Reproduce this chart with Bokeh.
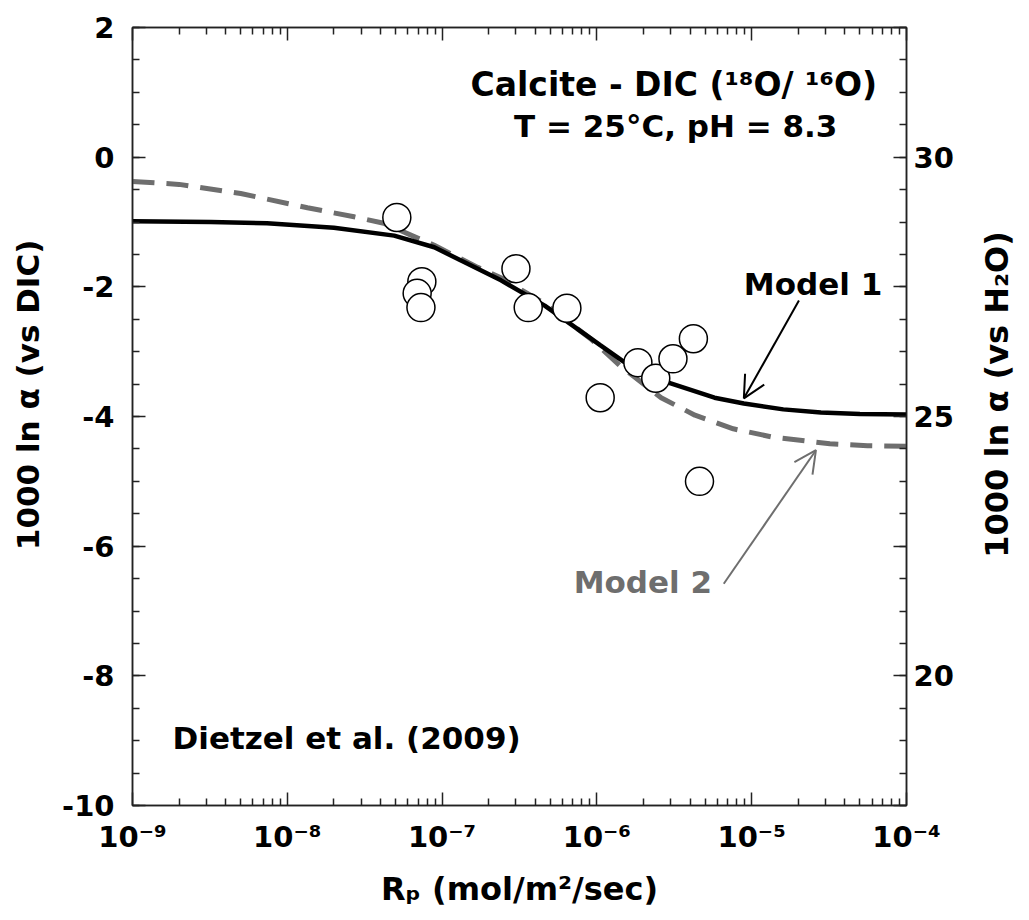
import math
import numpy as np
from bokeh.plotting import figure
from bokeh.models import (LinearAxis, LogAxis, Range1d, FixedTicker,
                          CustomJSTickFormatter, Arrow, OpenHead, Label)
from bokeh.embed import file_html
from bokeh.resources import INLINE

# ---------------- data ----------------
rate_obs = [5.1e-8, 7.4e-8, 6.9e-8, 7.3e-8, 3.0e-7, 3.6e-7, 6.4e-7,
            1.05e-6, 1.84e-6, 2.4e-6, 3.1e-6, 4.2e-6, 4.6e-6]
alpha_obs = [-0.93, -1.92, -2.10, -2.32, -1.72, -2.32, -2.33,
             -3.71, -3.17, -3.41, -3.11, -2.80, -5.00]

model1_rate = [1e-9, 3.2e-9, 7.4e-9, 2.0e-8, 4.9e-8, 8.9e-8, 1.45e-7, 2.4e-7,
               4.6e-7, 1.05e-6, 1.48e-6, 3.0e-6, 5.75e-6, 8.9e-6, 1.6e-5,
               2.8e-5, 5.0e-5, 1e-4]
model1_alpha = [-0.99, -1.00, -1.02, -1.09, -1.21, -1.39, -1.64, -1.90,
                -2.29, -2.90, -3.15, -3.49, -3.71, -3.80, -3.89,
                -3.94, -3.96, -3.97]

model2_rate = [1e-9, 2.0e-9, 5.0e-9, 1.35e-8, 2.7e-8, 4.2e-8, 8.9e-8, 1.7e-7,
               2.4e-7, 4.6e-7, 9.1e-7, 1.4e-6, 2.6e-6, 4.3e-6, 7.6e-6,
               1.38e-5, 3.2e-5, 5.6e-5, 1e-4]
model2_alpha = [-0.375, -0.42, -0.56, -0.78, -0.92, -1.02, -1.36, -1.70,
                -1.86, -2.26, -2.80, -3.21, -3.71, -3.98, -4.19,
                -4.32, -4.42, -4.45, -4.46]

x_decades = [1e-9, 1e-8, 1e-7, 1e-6, 1e-5, 1e-4]
y_major = [-10, -8, -6, -4, -2, 0, 2]
h2o_labelled = [20, 25, 30]

FONT = "DejaVu Sans"
GRAY = "#6e6e6e"
AX = "#222222"
NBSP = "\u00a0"

# ---------------- figure ----------------
p = figure(width=1025, height=915, x_axis_type="log",
           x_range=Range1d(1e-9, 1e-4), y_range=Range1d(-10, 2),
           output_backend="svg", toolbar_location=None,
           min_border_left=132, min_border_right=119,
           min_border_top=27, min_border_bottom=110)
p.extra_y_ranges = {"h2o": Range1d(17.5, 32.5)}
p.grid.visible = False
p.outline_line_color = AX
p.outline_line_width = 1.5
p.background_fill_color = "white"
p.border_fill_color = "white"

x_minor = [k * d for d in x_decades[:-1] for k in range(2, 10)]
x_ticker = FixedTicker(ticks=x_decades, minor_ticks=x_minor)
y_minor = list(np.arange(-10, 2.01, 0.5))
y_ticker = FixedTicker(ticks=y_major, minor_ticks=y_minor)
h_major = list(np.arange(17.5, 32.51, 2.5))
h_minor = list(np.arange(17.5, 32.51, 0.625))
h_ticker = FixedTicker(ticks=h_major, minor_ticks=h_minor)

log_fmt = CustomJSTickFormatter(code="""
const sup = {'-':'\u207b','0':'\u2070','1':'\u00b9','2':'\u00b2','3':'\u00b3',
             '4':'\u2074','5':'\u2075','6':'\u2076','7':'\u2077','8':'\u2078','9':'\u2079'};
const e = Math.round(Math.log10(tick));
return '10' + String(e).split('').map(c => sup[c]).join('');
""")
lin_fmt = CustomJSTickFormatter(code="return tick.toFixed(0);")
h_fmt = CustomJSTickFormatter(code="""
return (Math.abs(tick % 5) < 1e-6) ? tick.toFixed(0) : '';
""")
blank_fmt = CustomJSTickFormatter(code="return '';")


def style(ax):
    ax.axis_line_color = AX
    ax.axis_line_width = 1.5
    ax.major_tick_line_color = AX
    ax.minor_tick_line_color = AX
    ax.major_tick_line_width = 1.5
    ax.minor_tick_line_width = 1.5
    ax.major_tick_in = 13
    ax.major_tick_out = 0
    ax.minor_tick_in = 7
    ax.minor_tick_out = 0
    ax.major_label_text_font = FONT
    ax.major_label_text_font_style = "bold"
    ax.major_label_text_font_size = "29px"
    ax.major_label_text_color = "black"
    ax.axis_label_text_font = FONT
    ax.axis_label_text_font_style = "bold"
    ax.axis_label_text_font_size = "31px"
    ax.axis_label_text_color = "black"


xb = p.below[0]
xb.ticker = x_ticker
xb.formatter = log_fmt
style(xb)
xb.axis_label_text_font_size = "32px"
xb.major_label_standoff = 14
xb.axis_label = "R\u209a (mol/m\u00b2/sec)"
xb.axis_label_standoff = 13

yl = p.left[0]
yl.ticker = y_ticker
yl.formatter = lin_fmt
style(yl)
yl.major_label_standoff = 18
# leading non-breaking spaces lift the centred title a little, as in the reference
yl.axis_label = NBSP * 4 + "1000 ln \u03b1 (vs DIC)"
yl.axis_label_standoff = 13

xt = LogAxis(ticker=x_ticker, formatter=blank_fmt)
style(xt)
xt.major_label_text_font_size = "0px"
xt.major_label_standoff = 0
p.add_layout(xt, "above")

yr = LinearAxis(y_range_name="h2o", ticker=h_ticker, formatter=h_fmt)
style(yr)
yr.major_label_standoff = 7
p.add_layout(yr, "right")

# right axis title, reading bottom-to-top like the left one,
# placed in its own side panel to the right of the right axis
p.add_layout(Label(x=40, y=-3.66, x_units="screen", y_units="data",
                   text="1000 ln \u03b1 (vs H\u2082O)", angle=math.pi / 2,
                   text_font=FONT, text_font_style="bold",
                   text_font_size="32px", text_color="black",
                   text_align="center", text_baseline="middle"), "right")

# ---------------- glyphs ----------------
p.line(model2_rate, model2_alpha, line_color=GRAY, line_width=5,
       line_dash="22 12")
p.line(model1_rate, model1_alpha, line_color="black", line_width=4.5)
p.scatter(rate_obs, alpha_obs, size=28, fill_color="white",
          line_color="black", line_width=1.5)

# arrows
p.add_layout(Arrow(end=OpenHead(size=22, line_width=2, line_color="black"),
                   x_start=2.02e-5, y_start=-2.21, x_end=8.9e-6, y_end=-3.72,
                   line_color="black", line_width=2))
p.add_layout(Arrow(end=OpenHead(size=22, line_width=2, line_color=GRAY),
                   x_start=6.6e-6, y_start=-6.58, x_end=2.6e-5, y_end=-4.52,
                   line_color=GRAY, line_width=2))


def lab(x, y, text, color="black", align="center", size="31px"):
    p.add_layout(Label(x=x, y=y, text=text, text_font=FONT,
                       text_font_style="bold", text_font_size=size,
                       text_color=color, text_align=align,
                       text_baseline="middle"))


lab(3.14e-6, 1.128, "Calcite - DIC (\u00b9\u2078O/ \u00b9\u2076O)", size="33px")
lab(3.23e-6, 0.488, "T = 25\u00b0C, pH = 8.3")
lab(2.49e-5, -1.964, "Model 1")
lab(1.98e-6, -6.545, "Model 2", color=GRAY)
lab(1.815e-9, -8.96, "Dietzel et al. (2009)", align="left")

with open("out.html", "w", encoding="utf-8") as f:
    f.write(file_html(p, INLINE))
